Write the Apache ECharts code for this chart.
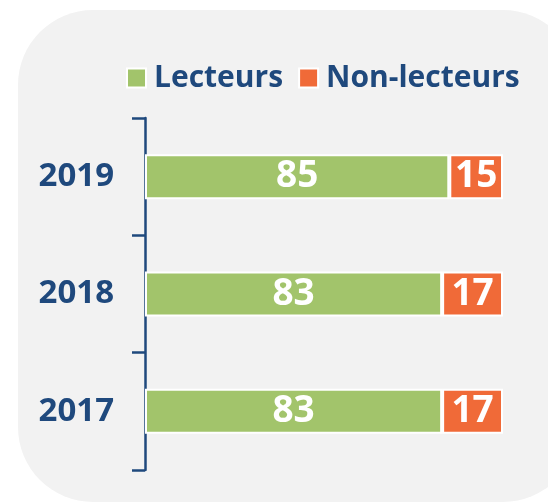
<!DOCTYPE html>
<html><head><meta charset="utf-8">
<script src="https://cdn.jsdelivr.net/npm/echarts@6/dist/echarts.min.js"></script>
<style>html,body{margin:0;padding:0;background:#fff}#c{width:548px;height:502px}</style>
</head><body><div id="c"></div>
<script>
const categories = ['2017', '2018', '2019'];
const lecteurs = [83, 83, 85];
const nonLecteurs = [17, 17, 15];
const seriesNames = ['Lecteurs', 'Non-lecteurs'];

const font = 'Open Sans';
const blue = '#1F497D';
const chart = echarts.init(document.getElementById('c'));
chart.setOption({
  animation: false,
  graphic: [{
    type: 'rect', z: -10, silent: true,
    shape: { x: 18, y: 10, width: 560, height: 492, r: 75 },
    style: { fill: '#F2F2F2' }
  }],
  legend: {
    left: 121, top: 55,
    itemWidth: 19, itemHeight: 19, itemGap: 15,
    icon: 'rect',
    itemStyle: { borderColor: '#fff', borderWidth: 2 },
    textStyle: { fontFamily: font, fontWeight: 'bold', fontSize: 30, color: blue, lineHeight: 36, padding: [0, 0, 0, 3] },
    data: seriesNames
  },
  grid: { left: 145, top: 118, width: 358, height: 352, containLabel: false },
  xAxis: { type: 'value', min: 0, max: 100, show: false },
  yAxis: {
    type: 'category', data: categories,
    axisLine: { show: true, lineStyle: { color: blue, width: 2.5 } },
    axisTick: { show: true, length: 13, lineStyle: { color: blue, width: 2.5 } },
    axisLabel: { margin: 31, fontFamily: font, fontWeight: 'bold', fontSize: 33, color: blue },
    splitLine: { show: false }
  },
  series: [
    {
      name: seriesNames[0], type: 'bar', stack: 'a', data: lecteurs, barWidth: 45,
      itemStyle: { color: '#A2C46B', borderColor: '#fff', borderWidth: 2 },
      label: { show: true, position: 'inside', color: '#fff', fontFamily: font, fontWeight: 'bold', fontSize: 37 }
    },
    {
      name: seriesNames[1], type: 'bar', stack: 'a', data: nonLecteurs, barWidth: 45,
      itemStyle: { color: '#F06A38', borderColor: '#fff', borderWidth: 2 },
      label: { show: true, position: 'inside', color: '#fff', fontFamily: font, fontWeight: 'bold', fontSize: 37 }
    }
  ]
});
</script></body></html>
